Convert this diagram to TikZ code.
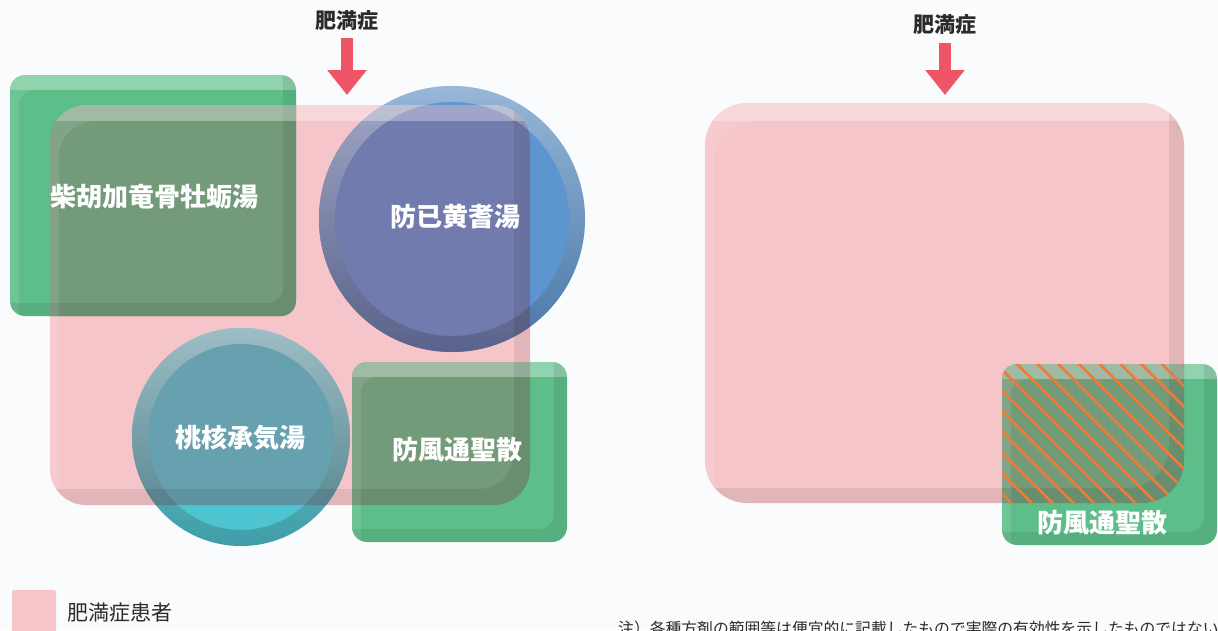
\documentclass[tikz,border=0pt]{standalone}
\usepackage{fontspec}
\newfontfamily\jp{Noto Sans CJK JP}
\usetikzlibrary{arrows.meta,fadings}
\definecolor{bg}{HTML}{FAFBFD}
\definecolor{pinkP}{HTML}{F6C5C9}
\definecolor{greenO}{HTML}{5DBE89}
\definecolor{greenI}{HTML}{739A79}
\definecolor{blueO}{HTML}{5C95D0}
\definecolor{blueI}{HTML}{717BAE}
\definecolor{tealO}{HTML}{4EC4D0}
\definecolor{tealI}{HTML}{67A1AF}
\definecolor{arrowred}{HTML}{EE5668}
\definecolor{hatchc}{HTML}{F07A38}
\definecolor{txt}{HTML}{2B2B2B}
\tikzset{
  herb/.style={font=\jp\bfseries\fontsize{26}{30}\selectfont, text=white, inner sep=0pt},
  headlbl/.style={font=\jp\bfseries\fontsize{21}{24}\selectfont, text=txt, inner sep=0pt},
  legendlbl/.style={font=\jp\fontsize{21}{24}\selectfont, text=txt, inner sep=0pt, anchor=west},
  notelbl/.style={font=\jp\fontsize{15.8}{18}\selectfont, text=txt, inner sep=0pt, anchor=west},
  downarrow/.style={draw=arrowred, line width=12pt, -{Triangle[width=38pt,length=25pt]}},
  hi/.style={white, fill opacity=#1},
  lo/.style={black, fill opacity=#1},
  hatchline/.style={draw=hatchc, line width=2.6pt},
}
% bevel of a rounded box: x1 y1 x2 y2 radius topband rbband
\newcommand\bevelbox[7]{%
  \begin{scope}
    \clip[rounded corners=#5] (#1,#2) rectangle (#3,#4);
    \fill[hi=.10, even odd rule] (#1-2,#2-2) rectangle (#3+2,#4+2)
       [rounded corners=#5] (#1+9,#2+#6) rectangle (#3+80,#4+80);
    \fill[hi=.25] (#1-2,#2-2) rectangle (#3+2,#2+#6);
    \fill[lo=.08, even odd rule] (#1-2,#2-2) rectangle (#3+2,#4+2)
       [rounded corners=#5] (#1-80,#2-80) rectangle (#3-#7,#4-#7);
  \end{scope}}
% bevel of a circle: cx cy r  (y axis is flipped, so fadings are swapped)
\newcommand\bevelcirc[3]{%
  \fill[lo=.08, even odd rule] (#1,#2) circle[radius=#3] (#1,#2) circle[radius=#3-16];
  \fill[white, path fading=south, fill opacity=.4, even odd rule] (#1,#2) circle[radius=#3] (#1,#2) circle[radius=#3-16];
  \fill[black, path fading=north, fill opacity=.12, even odd rule] (#1,#2) circle[radius=#3] (#1,#2) circle[radius=#3-16];}
\begin{document}
\begin{tikzpicture}[x=1pt,y=-1pt]
\useasboundingbox (0,0) rectangle (1218,630);
\clip (0,0) rectangle (1218,630);
\fill[bg] (0,0) rectangle (1218,630);

% ---------- left panel ----------
\fill[pinkP, rounded corners=36] (50,105) rectangle (530,505);
\fill[greenO, rounded corners=15] (10,75) rectangle (296,316);
\fill[blueO] (452,219) circle[radius=133];
\fill[tealO] (241,437) circle[radius=109];
\fill[greenO, rounded corners=15] (352,362) rectangle (567,542);
\begin{scope}
  \clip[rounded corners=36] (50,105) rectangle (530,505);
  \fill[greenI, rounded corners=15] (10,75) rectangle (296,316);
  \fill[blueI] (452,219) circle[radius=133];
  \fill[tealI] (241,437) circle[radius=109];
  \fill[greenI, rounded corners=15] (352,362) rectangle (567,542);
\end{scope}
\bevelbox{10}{75}{296}{316}{15}{15}{13}
\bevelbox{352}{362}{567}{542}{15}{15}{13}
\bevelcirc{452}{219}{133}
\bevelcirc{241}{437}{109}
\bevelbox{50}{105}{530}{505}{36}{16}{16}

\node[herb] (g1) at (154,197) {柴胡加竜骨牡蛎湯};
\node[herb] (b1) at (455,217) {防已黄耆湯};
\node[herb] (t1) at (240,438) {桃核承気湯};
\node[herb] (g2) at (457,450) {防風通聖散};

\node[headlbl] (h1) at (347,21) {肥満症};
\coordinate (a1s) at (347,38);
\coordinate (a1e) at (347,95);
\draw[downarrow] (a1s) -- (a1e);

% ---------- right panel ----------
\fill[pinkP, rounded corners=42] (705,103) rectangle (1184,503);
\fill[greenO, rounded corners=15] (1002,364) rectangle (1217,545);
\begin{scope}
  \clip[rounded corners=42] (705,103) rectangle (1184,503);
  \fill[greenI, rounded corners=15] (1002,364) rectangle (1217,545);
\end{scope}
\bevelbox{1002}{364}{1217}{545}{15}{15}{13}
\bevelbox{705}{103}{1184}{503}{42}{18}{15}
\begin{scope}
  \clip[rounded corners=42] (705,103) rectangle (1184,503);
  \clip[rounded corners=15] (1002,364) rectangle (1217,545);
  \foreach \k in {-8,...,9}
    \draw[hatchline] (1015+\k*20.7,362) -- ++(150,150);
\end{scope}
\node[herb] (g3) at (1102,523) {防風通聖散};

\node[headlbl] (h2) at (945,25) {肥満症};
\coordinate (a2s) at (945,43);
\coordinate (a2e) at (945,95);
\draw[downarrow] (a2s) -- (a2e);

% ---------- legend and note ----------
\fill[pinkP, rounded corners=2] (12,590) rectangle (56,636);
\node[legendlbl] (leg) at (67,613) {肥満症患者};
\node[notelbl] (note) at (618,628) {注）各種方剤の範囲等は便宜的に記載したもので実際の有効性を示したものではない};
\end{tikzpicture}
\end{document}
